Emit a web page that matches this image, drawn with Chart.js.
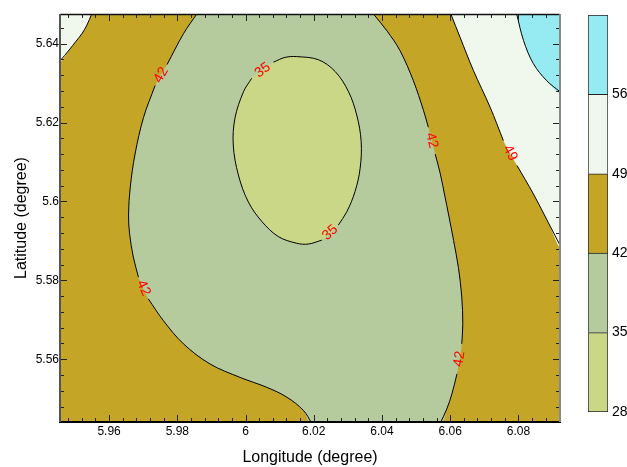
<!DOCTYPE html>
<html>
<head>
<meta charset="utf-8">
<script src="https://cdn.jsdelivr.net/npm/chart.js@4.4.1/dist/chart.umd.min.js"></script>
<style>
  html, body { margin: 0; padding: 0; background: #fff; }
  #wrap { position: relative; width: 627px; height: 467px; }
  #map { position: absolute; left: 0; top: 0; }
  #bar { position: absolute; left: 560px; top: 0; }
</style>
</head>
<body>
<div id="wrap">
  <canvas id="map" width="627" height="467"></canvas>
  <canvas id="bar" width="67" height="467"></canvas>
</div>
<script>
// Map extent and axis ticks (degrees)
const lonRange = [5.9456, 6.0922];
const latRange = [5.5441, 5.6475];
const lonTicks = [5.96, 5.98, 6, 6.02, 6.04, 6.06, 6.08];
const latTicks = [5.56, 5.58, 5.6, 5.62, 5.64];

// Contour levels (colour bar) and the band fills between them
const levels = [28, 35, 42, 49, 56, 63];
const levelTicks = [28, 35, 42, 49, 56];
const bandColors = ['#C9D787', '#B5CB9E', '#C4A526', '#F0F8EE', '#96EAF2'];

// Iso-lines as [lon, lat]; a null is the break where the level label sits.
// A leading null means the break wraps round from the last point to the first.
const contour42West = [
  [5.9857, 5.6475], [5.9818, 5.6425], [5.9770, 5.6347], null,
  [5.9735, 5.6294], [5.9701, 5.6213], [5.9676, 5.6120], [5.9662, 5.6036],
  [5.9657, 5.5968], [5.9660, 5.5918], [5.9671, 5.5859], [5.9686, 5.5808], null,
  [5.9715, 5.5753], [5.9759, 5.5698], [5.9818, 5.5639], [5.9896, 5.5588],
  [5.9984, 5.5554], [6.0062, 5.5529], [6.0121, 5.5504], [6.0170, 5.5470],
  [6.0194, 5.5438]
];
const contour42East = [
  [6.0375, 5.6475], [6.0414, 5.6433], [6.0453, 5.6382], [6.0492, 5.6306],
  [6.0522, 5.6230], [6.0536, 5.6188], null,
  [6.0556, 5.6120], [6.0571, 5.6070], [6.0585, 5.6011], [6.0595, 5.5968],
  [6.0610, 5.5901], [6.0624, 5.5833], [6.0634, 5.5757], [6.0637, 5.5689],
  [6.0634, 5.5639], null,
  [6.0620, 5.5563], [6.0605, 5.5512], [6.0590, 5.5474], [6.0571, 5.5438]
];
const contour35 = [
  null,
  [6.0082, 5.6353], [6.0116, 5.6365], [6.0150, 5.6367], [6.0214, 5.6359],
  [6.0263, 5.6329], [6.0302, 5.6278], [6.0326, 5.6219], [6.0339, 5.6152],
  [6.0336, 5.6084], [6.0321, 5.6025], [6.0297, 5.5974], [6.0272, 5.5940], null,
  [6.0224, 5.5902], [6.0184, 5.5892], [6.0150, 5.5894], [6.0096, 5.5911],
  [6.0048, 5.5949], [6.0008, 5.5999], [5.9979, 5.6067], [5.9964, 5.6143],
  [5.9969, 5.6211], [5.9994, 5.6278], [6.0018, 5.6312]
];
const contour49East = [
  [6.0602, 5.6475], [6.0629, 5.6416], [6.0668, 5.6332], [6.0717, 5.6239],
  [6.0756, 5.6154], null,
  [6.0796, 5.6091], [6.0844, 5.6019], [6.0888, 5.5946], [6.0922, 5.5889]
];
const contour49West = [
  [5.9549, 5.6475], [5.9535, 5.6447], [5.9521, 5.6426], [5.9503, 5.6406],
  [5.9483, 5.6384], [5.9456, 5.6356]
];
const contour56 = [
  [6.0795, 5.6475], [6.0815, 5.6408], [6.0844, 5.6349], [6.0883, 5.6306],
  [6.0922, 5.6278]
];

const contours = [
  { level: 42, path: contour42West },
  { level: 42, path: contour42East },
  { level: 35, path: contour35 },
  { level: 49, path: contour49East },
  { level: 49, path: contour49West },
  { level: 56, path: contour56 }
];

const FONT = '"Liberation Sans", Arial, Helvetica, sans-serif';
Chart.defaults.font.family = FONT;

const toPt = p => ({ x: p[0], y: p[1] });
const solid = path => path.filter(p => p).map(toPt);
const NE = [lonRange[1], latRange[1]];
const NW = [lonRange[0], latRange[1]];

// filled band polygons (higher order = drawn further underneath)
function band(points, color, order, tension = 0.35) {
  return { data: points, showLine: true, fill: 'shape', backgroundColor: color,
           borderWidth: 0, pointRadius: 0, tension, order };
}
function isoline(path) {
  return { data: path.map(p => p ? toPt(p) : { x: null, y: null }), showLine: true,
           fill: false, borderColor: '#000', borderWidth: 1, pointRadius: 0,
           tension: 0.35, spanGaps: false, order: 0 };
}

const datasets = [
  band([[lonRange[0], latRange[0]], [lonRange[1], latRange[0]], NE, NW].map(toPt), bandColors[2], 5, 0),
  band(solid(contour42West).concat(solid(contour42East).reverse()), bandColors[1], 4),
  band(solid(contour35), bandColors[0], 3),
  band(solid(contour49East).concat([toPt(NE)]), bandColors[3], 3),
  band(solid(contour49West).concat([toPt(NW)]), bandColors[3], 3),
  band(solid(contour56).concat([toPt(NE)]), bandColors[4], 2),
  ...contours.map(c => isoline(c.path))
];

// ticks every fifth of a labelled interval; labelled ones are major
function withMinorTicks(majors, range) {
  const step = (majors[1] - majors[0]) / 5;
  const out = [];
  for (let k = Math.ceil((range[0] - majors[0]) / step - 1e-9);
       majors[0] + k * step <= range[1] + 1e-9; k++) {
    out.push({ value: +(majors[0] + k * step).toFixed(6), major: k % 5 === 0 });
  }
  return out;
}
const majorLabel = (v, i, ts) => (ts[i] && ts[i].major) ? String(v) : '';

// level labels written into the breaks of the iso-lines
const contourLabels = {
  id: 'contourLabels',
  afterDatasetsDraw(chart) {
    const { ctx, scales: { x, y } } = chart;
    const px = p => [x.getPixelForValue(p[0]), y.getPixelForValue(p[1])];
    ctx.save();
    ctx.beginPath();
    ctx.rect(chart.chartArea.left, chart.chartArea.top, chart.chartArea.width, chart.chartArea.height);
    ctx.clip();
    ctx.font = '14px ' + FONT;
    ctx.fillStyle = '#FF0000';
    ctx.textAlign = 'center';
    ctx.textBaseline = 'middle';
    for (const c of contours) {
      const n = c.path.length;
      c.path.forEach((p, i) => {
        if (p) return;
        const a = px(c.path[(i - 1 + n) % n]);
        const b = px(c.path[(i + 1) % n]);
        let ang = Math.atan2(b[1] - a[1], b[0] - a[0]);
        if (ang > Math.PI / 2) ang -= Math.PI;
        else if (ang < -Math.PI / 2) ang += Math.PI;
        ctx.save();
        ctx.translate((a[0] + b[0]) / 2, (a[1] + b[1]) / 2);
        ctx.rotate(ang);
        ctx.fillText(String(c.level), 0, 0);
        ctx.restore();
      });
    }
    ctx.restore();
  }
};

// plot frame with inward tick marks on all four sides
const frameTicks = {
  id: 'frameTicks',
  afterDraw(chart) {
    const { ctx, chartArea: a, scales: { x, y } } = chart;
    ctx.save();
    ctx.strokeStyle = '#222';
    ctx.lineWidth = 1;
    ctx.beginPath();
    for (const t of x.ticks) {
      const p = Math.round(x.getPixelForValue(t.value)) + 0.5;
      const len = t.major ? 7 : 4;
      ctx.moveTo(p, a.bottom); ctx.lineTo(p, a.bottom - len);
      ctx.moveTo(p, a.top); ctx.lineTo(p, a.top + len);
    }
    for (const t of y.ticks) {
      const p = Math.round(y.getPixelForValue(t.value)) + 0.5;
      const len = t.major ? 7 : 4;
      ctx.moveTo(a.left, p); ctx.lineTo(a.left + len, p);
      ctx.moveTo(a.right, p); ctx.lineTo(a.right - len, p);
    }
    ctx.stroke();
    ctx.lineWidth = 1.5;
    ctx.strokeStyle = '#111';
    ctx.beginPath(); ctx.moveTo(a.left, a.top + 0.5); ctx.lineTo(a.right, a.top + 0.5); ctx.stroke();
    ctx.lineWidth = 2;
    ctx.strokeStyle = '#000';
    ctx.beginPath(); ctx.moveTo(a.left - 1, a.bottom); ctx.lineTo(a.right + 1, a.bottom); ctx.stroke();
    ctx.strokeStyle = '#555';
    ctx.beginPath(); ctx.moveTo(a.left, a.top); ctx.lineTo(a.left, a.bottom); ctx.stroke();
    ctx.strokeStyle = '#888';
    ctx.beginPath(); ctx.moveTo(a.right, a.top); ctx.lineTo(a.right, a.bottom); ctx.stroke();
    ctx.restore();
  }
};

new Chart(document.getElementById('map'), {
  type: 'scatter',
  data: { datasets },
  options: {
    responsive: false,
    animation: false,
    devicePixelRatio: 1,
    layout: { padding: { top: 14, right: 67, left: 0, bottom: 0 } },
    plugins: { legend: { display: false }, tooltip: { enabled: false } },
    scales: {
      x: {
        type: 'linear', min: lonRange[0], max: lonRange[1],
        afterBuildTicks: s => { s.ticks = withMinorTicks(lonTicks, lonRange); },
        afterFit: s => { s.height = 45; },
        grid: { display: false, drawTicks: false }, border: { display: false },
        ticks: { autoSkip: false, maxRotation: 0, padding: 2, color: '#000',
                 font: { size: 12 }, callback: majorLabel },
        title: { display: true, text: 'Longitude (degree)', color: '#000',
                 font: { size: 16 }, padding: { top: 0, bottom: 0 } }
      },
      y: {
        type: 'linear', min: latRange[0], max: latRange[1],
        afterBuildTicks: s => { s.ticks = withMinorTicks(latTicks, latRange); },
        afterFit: s => { s.width = 60; },
        grid: { display: false, drawTicks: false }, border: { display: false },
        ticks: { autoSkip: false, padding: 1, color: '#000',
                 font: { size: 12 }, callback: majorLabel },
        title: { display: true, text: 'Latitude (degree)', color: '#000',
                 font: { size: 16 }, padding: { top: 12, bottom: 0 } }
      }
    }
  },
  plugins: [contourLabels, frameTicks]
});

// colour bar: one floating bar per band between consecutive levels
new Chart(document.getElementById('bar'), {
  type: 'bar',
  data: {
    labels: [''],
    datasets: bandColors.map((c, i) => ({
      data: [[levels[i], levels[i + 1]]],
      backgroundColor: c,
      borderColor: '#222',
      borderWidth: { top: 1, left: 1, right: 1, bottom: i === 0 ? 1 : 0 },
      borderSkipped: false,
      barPercentage: 1,
      categoryPercentage: 1
    }))
  },
  options: {
    responsive: false,
    animation: false,
    devicePixelRatio: 1,
    layout: { padding: { left: 28, top: 15, bottom: 55, right: 0 } },
    plugins: { legend: { display: false }, tooltip: { enabled: false } },
    scales: {
      x: { display: false, stacked: true },
      y: {
        position: 'right', min: levels[0], max: levels[levels.length - 1],
        afterBuildTicks: s => { s.ticks = levelTicks.map(v => ({ value: v })); },
        afterFit: s => { s.width = 19; },
        grid: { display: false, drawTicks: false }, border: { display: false },
        ticks: { padding: 4, color: '#000', font: { size: 14 } }
      }
    }
  }
});
</script>
</body>
</html>
